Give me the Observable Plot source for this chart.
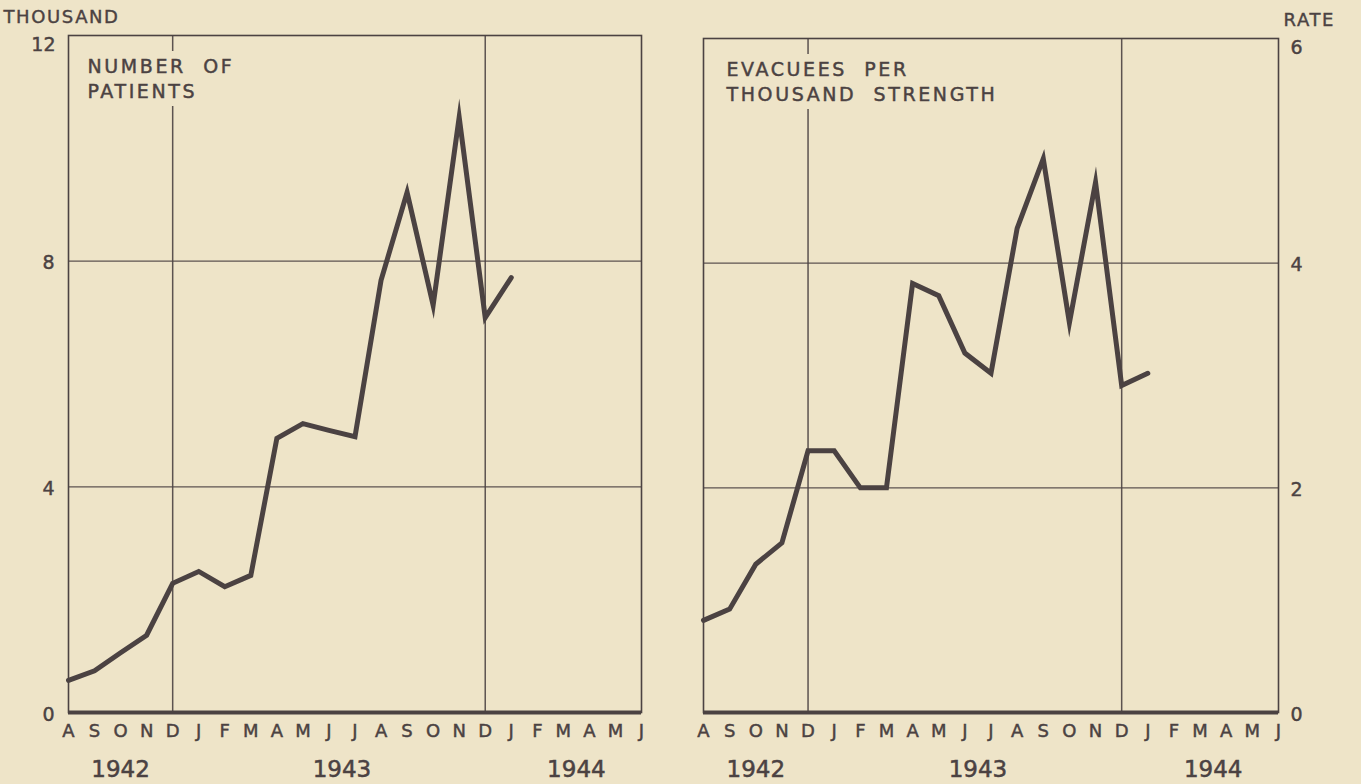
<!DOCTYPE html>
<html>
<head>
<meta charset="utf-8">
<script src="https://cdn.jsdelivr.net/npm/d3@7"></script>
<script src="https://cdn.jsdelivr.net/npm/@observablehq/plot@0.6"></script>
<style>
  html, body { margin: 0; padding: 0; background: #eee4c8; width: 1361px; height: 784px; overflow: hidden; }
  #wrap { position: relative; width: 1361px; height: 784px; }
  #left, #right { position: absolute; top: 0; }
  #left { left: 0; }
  #right { left: 680px; }
  svg g[aria-description="panel-title-halo"] text { letter-spacing: 2.6px; }
  svg g[aria-description="panel-title"] text { letter-spacing: 2.6px; stroke: #4b4242; stroke-width: 0.45px; }
  svg g[aria-description="unit-label"] text { letter-spacing: 1.6px; stroke: #4b4242; stroke-width: 0.4px; }
  svg g[aria-description="years"] text { stroke: #4b4242; stroke-width: 0.5px; }
  svg g[aria-label="x-axis tick label"] text,
  svg g[aria-label="y-axis tick label"] text { stroke: #4b4242; stroke-width: 0.45px; }
</style>
</head>
<body>
<div id="wrap"><div id="left"></div><div id="right"></div></div>
<script>
// Month letters, Aug 1942 .. Jun 1944
const months = ["A","S","O","N","D","J","F","M","A","M","J","J","A","S","O","N","D","J","F","M","A","M","J"];
const monthYears = [1942,1942,1942,1942,1942,
                    1943,1943,1943,1943,1943,1943,1943,1943,1943,1943,1943,1943,
                    1944,1944,1944,1944,1944,1944];
const years = [1942, 1943, 1944];

// Left panel: number of patients (thousand), Aug 1942 .. Jan 1944
const patientsThousand = [0.57, 0.74, 1.06, 1.37, 2.29, 2.50, 2.23, 2.43, 4.86, 5.12, 5.00, 4.89,
                          7.66, 9.22, 7.22, 10.55, 7.00, 7.71];
// Right panel: evacuees per thousand strength, Aug 1942 .. Jan 1944
const evacueesPerThousand = [0.82, 0.92, 1.32, 1.51, 2.33, 2.33, 2.00, 2.00, 3.82, 3.71, 3.20, 3.02,
                             4.31, 4.93, 3.47, 4.72, 2.91, 3.02];

const leftTicks = [0, 4, 8, 12];
const rightTicks = [0, 2, 4, 6];

const ink = "#4b4242";
const paper = "#eee4c8";

function panel({values, yTicks, side, unit, unitDx, title, titleDx, marginLeft, marginRight, marginTop}) {
  const yMax = d3.max(yTicks);
  const rows = values.map((v, i) => ({i, v}));
  const idx = months.map((m, i) => i);
  const decIdx = idx.filter(i => months[i] === "D");
  const yearRows = years.map(y => ({year: String(y), x: d3.mean(idx.filter(i => monthYears[i] === y))}));
  const inner = yTicks.filter(t => t > 0 && t < yMax);
  const titleOpts = {
    frameAnchor: "top-left", textAnchor: "start", lineAnchor: "top",
    dx: titleDx, dy: 20, fontSize: 19, lineHeight: 1.32
  };
  return Plot.plot({
    width: 680,
    height: 784,
    marginLeft, marginRight, marginTop,
    marginBottom: 72,
    x: {domain: [0, months.length - 1]},
    y: {domain: [0, yMax]},
    style: {fontFamily: "DejaVu Sans", background: "transparent", color: ink},
    marks: [
      Plot.gridY(inner, {stroke: ink, strokeOpacity: 0.9, strokeWidth: 1.3}),
      Plot.gridX(decIdx, {stroke: ink, strokeOpacity: 0.9, strokeWidth: 1.5}),
      Plot.text([title], {...titleOpts, fill: paper, stroke: paper, strokeWidth: 16, ariaDescription: "panel-title-halo"}),
      Plot.text([title], {...titleOpts, fill: ink, ariaDescription: "panel-title"}),
      Plot.frame({stroke: ink, strokeWidth: 1.6}),
      Plot.ruleY([0], {stroke: ink, strokeWidth: 4}),
      Plot.line(rows, {x: "i", y: "v", stroke: ink, strokeWidth: 5, strokeLinejoin: "miter", strokeMiterlimit: 10}),
      Plot.axisX(idx, {
        tickSize: 0, tickPadding: 12, tickFormat: i => months[i],
        fontSize: 18, fill: ink, label: null
      }),
      Plot.axisY(yTicks.filter(t => t < yMax), {
        anchor: side, tickSize: 0, tickPadding: side === "left" ? 14 : 12,
        tickFormat: d => String(d),
        fontSize: 19, fill: ink, label: null, dy: 2
      }),
      Plot.axisY([yMax], {
        anchor: side, tickSize: 0, tickPadding: side === "left" ? 13 : 12,
        tickFormat: d => String(d),
        fontSize: 19, fill: ink, label: null, dy: 9
      }),
      Plot.text([unit], {
        frameAnchor: side === "left" ? "top-left" : "top-right",
        textAnchor: "start", lineAnchor: "top",
        dx: unitDx, dy: -25, fontSize: 18, fill: ink, ariaDescription: "unit-label"
      }),
      Plot.text(yearRows, {
        x: "x", text: "year", frameAnchor: "bottom", lineAnchor: "top",
        dy: 48, fontSize: 23, fill: ink, ariaDescription: "years"
      })
    ]
  });
}

document.getElementById("left").append(panel({
  values: patientsThousand,
  yTicks: leftTicks,
  side: "left",
  unit: "THOUSAND",
  unitDx: -65,
  title: "NUMBER  OF\nPATIENTS",
  titleDx: 19,
  marginLeft: 68, marginRight: 39, marginTop: 35
}));

document.getElementById("right").append(panel({
  values: evacueesPerThousand,
  yTicks: rightTicks,
  side: "right",
  unit: "RATE",
  unitDx: 5,
  title: "EVACUEES  PER\nTHOUSAND  STRENGTH",
  titleDx: 23,
  marginLeft: 23, marginRight: 82, marginTop: 38
}));
</script>
</body>
</html>
